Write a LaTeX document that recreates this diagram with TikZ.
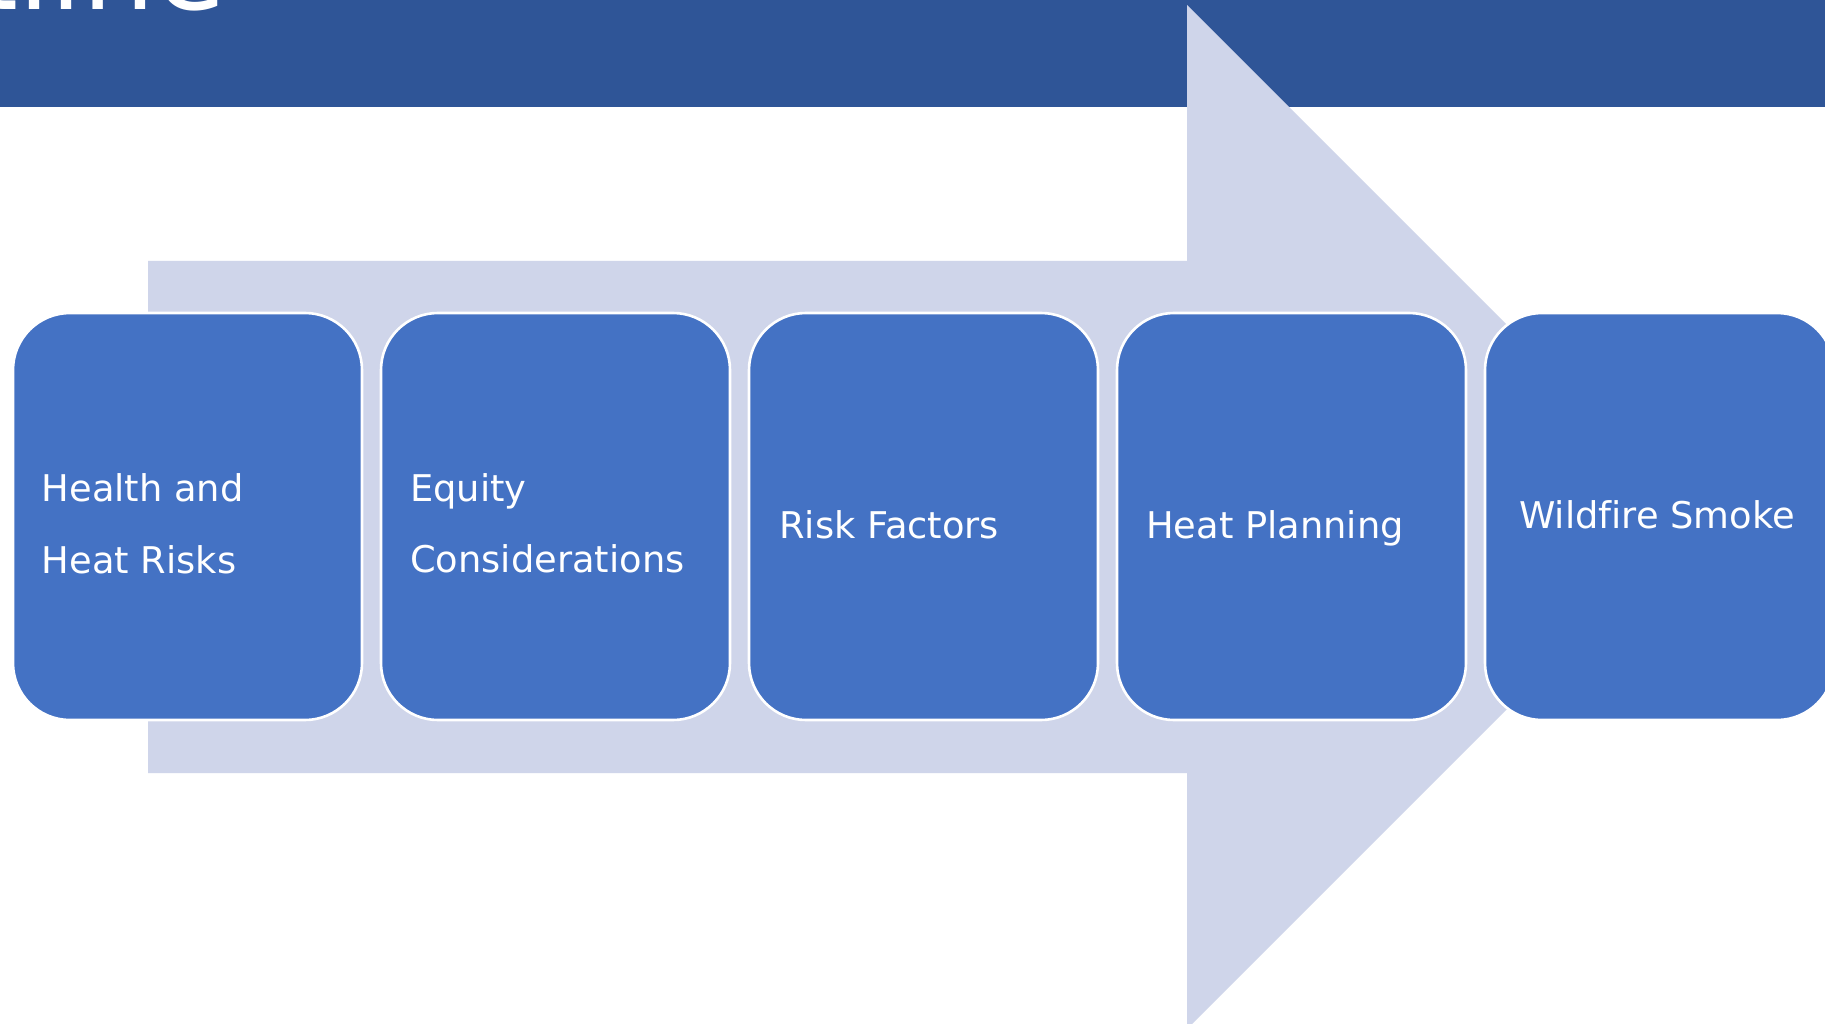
\documentclass[tikz,border=0pt]{standalone}
\usepackage{fontspec}
\setmainfont[Ligatures=NoCommon]{DejaVu Sans}
\newfontfamily\headfont[Ligatures=NoCommon]{DejaVu Sans}
\definecolor{bandblue}{HTML}{2F5597}
\definecolor{arrowfill}{HTML}{CFD5EA}
\definecolor{stagefill}{HTML}{4472C4}
\tikzset{
  stagebox/.style={rectangle, rounded corners=57pt, fill=stagefill, draw=white,
    line width=2.6pt, minimum width=349pt, minimum height=407pt, inner sep=0pt},
  stagetext/.style={anchor=base west, inner sep=0pt, text=white,
    font=\fontsize{36.8}{44}\selectfont},
}
\begin{document}
\begin{tikzpicture}[x=1pt, y=-1pt]
  \useasboundingbox (0,0) rectangle (1825,1024);
  \begin{scope}
    \clip (0,0) rectangle (1825,1024);
    \fill[white] (0,0) rectangle (1825,1024);
    % title band
    \fill[bandblue] (0,0) rectangle (1825,107);
    \node[anchor=base west, inner sep=0pt, text=white,
      font=\headfont\fontsize{115}{130}\selectfont] (title) at (-190.5,9.5) {Outline};
    % process arrow behind the stages
    \fill[arrowfill] (148,261) -- (1187,261) -- (1187,5) -- (1699,517)
      -- (1187,1029) -- (1187,773) -- (148,773) -- cycle;
    % stages
    \node[stagebox] (s1) at (187.5,516.5) {};
    \node[stagebox] (s2) at (555.5,516.5) {};
    \node[stagebox] (s3) at (923.5,516.5) {};
    \node[stagebox] (s4) at (1291.5,516.5) {};
    \node[stagebox] (s5) at (1659.5,516.5) {};
    % stage labels
    \node[stagetext] (t1a) at (41.7,501.7) {Health and};
    \node[stagetext] (t1b) at (41.7,573.3) {Heat Risks};
    \node[stagetext] (t2a) at (410,501.7) {Equity};
    \node[stagetext] (t2b) at (410,572.5) {Considerations};
    \node[stagetext] (t3) at (779,538) {Risk Factors};
    \node[stagetext] (t4) at (1146,538) {Heat Planning};
    \node[stagetext] (t5) at (1519,528) {Wildfire Smoke};
  \end{scope}
\end{tikzpicture}
\end{document}
